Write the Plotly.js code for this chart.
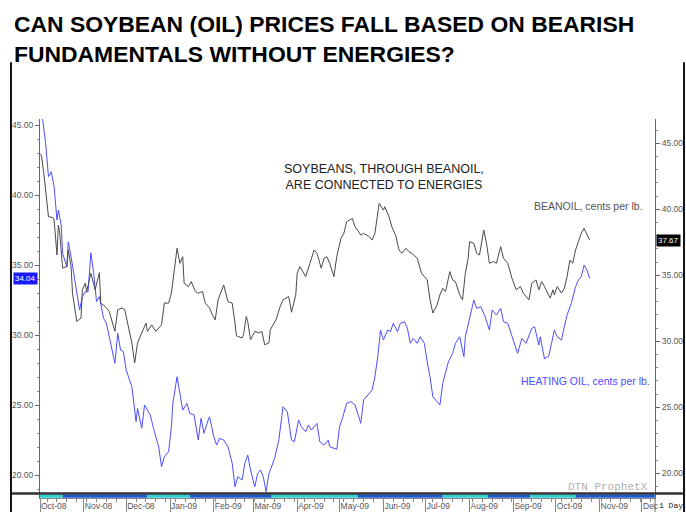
<!DOCTYPE html>
<html>
<head>
<meta charset="utf-8">
<script src="https://cdn.plot.ly/plotly-3.0.1.min.js"></script>
<style>
html,body{margin:0;padding:0;background:#fff;}
#chart{width:686px;height:512px;}
</style>
</head>
<body>
<div id="chart"></div>
<script>
// ---- DATA ----
const beanDates = ['2008-10-01','2008-10-02','2008-10-04','2008-10-07','2008-10-10','2008-10-11','2008-10-13','2008-10-14','2008-10-15','2008-10-17','2008-10-20','2008-10-21','2008-10-23','2008-10-24','2008-10-27','2008-10-30','2008-10-31','2008-11-02','2008-11-03','2008-11-06','2008-11-09','2008-11-12','2008-11-13','2008-11-16','2008-11-19','2008-11-23','2008-11-25','2008-11-28','2008-11-30','2008-12-02','2008-12-05','2008-12-07','2008-12-09','2008-12-13','2008-12-15','2008-12-16','2008-12-19','2008-12-22','2008-12-26','2008-12-28','2008-12-31','2009-01-02','2009-01-04','2009-01-06','2009-01-08','2009-01-10','2009-01-11','2009-01-14','2009-01-16','2009-01-19','2009-01-21','2009-01-24','2009-01-26','2009-01-29','2009-01-31','2009-02-02','2009-02-04','2009-02-08','2009-02-11','2009-02-14','2009-02-16','2009-02-17','2009-02-21','2009-02-22','2009-02-24','2009-02-25','2009-02-27','2009-03-02','2009-03-05','2009-03-07','2009-03-09','2009-03-12','2009-03-13','2009-03-15','2009-03-17','2009-03-20','2009-03-22','2009-03-26','2009-03-28','2009-03-31','2009-04-01','2009-04-03','2009-04-07','2009-04-10','2009-04-13','2009-04-15','2009-04-18','2009-04-20','2009-04-22','2009-04-24','2009-04-27','2009-04-29','2009-05-02','2009-05-04','2009-05-06','2009-05-10','2009-05-12','2009-05-16','2009-05-18','2009-05-22','2009-05-24','2009-05-26','2009-05-29','2009-06-01','2009-06-02','2009-06-05','2009-06-07','2009-06-10','2009-06-12','2009-06-14','2009-06-17','2009-06-19','2009-06-21','2009-06-25','2009-06-26','2009-06-28','2009-07-02','2009-07-04','2009-07-06','2009-07-09','2009-07-11','2009-07-13','2009-07-15','2009-07-18','2009-07-20','2009-07-22','2009-07-25','2009-07-27','2009-07-29','2009-07-31','2009-08-01','2009-08-04','2009-08-06','2009-08-08','2009-08-11','2009-08-13','2009-08-15','2009-08-18','2009-08-20','2009-08-23','2009-08-25','2009-08-28','2009-08-31','2009-09-03','2009-09-06','2009-09-08','2009-09-12','2009-09-14','2009-09-17','2009-09-19','2009-09-21','2009-09-23','2009-09-27','2009-09-29','2009-09-30','2009-10-02','2009-10-05','2009-10-07','2009-10-09','2009-10-11','2009-10-13','2009-10-15','2009-10-17','2009-10-19','2009-10-21','2009-10-23','2009-10-25'];
const beanoil = [44.22,44.09,42.45,39.43,39.39,39.18,36.54,38.81,38.18,35.54,35.66,36.92,35.66,33.65,31.50,31.76,33.90,34.40,33.77,35.16,33.90,35.20,32.89,32.64,32.26,30.75,32.39,32.52,32.39,31.38,29.87,28.36,29.87,30.88,31.38,30.75,31.25,30.75,31.25,32.90,32.89,33.65,35.16,37.05,35.91,36.41,34.40,34.15,34.52,33.77,33.65,33.77,32.89,32.52,32.01,31.63,33.14,34.27,33.01,32.89,31.38,30.42,30.25,30.50,31.88,31.50,30.12,30.75,30.63,30.75,29.74,29.87,30.88,31.25,31.63,32.64,33.14,33.39,32.20,33.52,35.16,35.66,34.90,35.91,36.92,36.67,35.54,36.29,36.41,35.91,34.90,36.41,37.80,38.18,39.06,39.31,38.68,38.05,38.18,37.92,37.67,38.18,40.45,39.94,40.19,39.43,38.68,37.92,36.92,36.67,37.05,36.79,36.67,36.29,35.90,35.16,34.65,33.14,32.14,32.76,33.52,34.02,33.77,35.28,34.65,34.52,33.52,33.14,35.16,36.29,37.55,37.42,36.67,36.54,38.43,37.42,35.91,36.04,35.91,37.17,36.29,35.91,34.78,33.90,34.15,33.65,33.14,34.40,34.65,33.90,34.52,34.15,33.27,33.90,33.52,34.15,33.65,34.02,34.90,36.16,35.91,36.92,37.55,38.18,38.56,38.05,37.67];

const hoDates = ['2008-10-01','2008-10-03','2008-10-05','2008-10-07','2008-10-09','2008-10-11','2008-10-13','2008-10-14','2008-10-16','2008-10-17','2008-10-20','2008-10-21','2008-10-23','2008-10-26','2008-10-29','2008-10-31','2008-11-02','2008-11-04','2008-11-06','2008-11-08','2008-11-10','2008-11-12','2008-11-15','2008-11-17','2008-11-20','2008-11-23','2008-11-25','2008-11-27','2008-11-29','2008-12-01','2008-12-05','2008-12-08','2008-12-09','2008-12-12','2008-12-14','2008-12-18','2008-12-21','2008-12-24','2008-12-26','2008-12-28','2008-12-31','2009-01-02','2009-01-03','2009-01-06','2009-01-08','2009-01-10','2009-01-13','2009-01-15','2009-01-18','2009-01-21','2009-01-23','2009-01-25','2009-01-28','2009-01-29','2009-02-01','2009-02-03','2009-02-05','2009-02-08','2009-02-11','2009-02-14','2009-02-16','2009-02-18','2009-02-21','2009-02-23','2009-02-25','2009-02-27','2009-03-02','2009-03-04','2009-03-06','2009-03-08','2009-03-10','2009-03-12','2009-03-13','2009-03-16','2009-03-19','2009-03-22','2009-03-25','2009-03-28','2009-03-30','2009-04-02','2009-04-04','2009-04-07','2009-04-09','2009-04-11','2009-04-15','2009-04-17','2009-04-20','2009-04-23','2009-04-24','2009-04-27','2009-04-29','2009-05-01','2009-05-03','2009-05-06','2009-05-09','2009-05-12','2009-05-14','2009-05-16','2009-05-18','2009-05-20','2009-05-24','2009-05-26','2009-05-28','2009-05-30','2009-06-01','2009-06-04','2009-06-06','2009-06-08','2009-06-11','2009-06-13','2009-06-16','2009-06-18','2009-06-20','2009-06-22','2009-06-25','2009-06-27','2009-06-30','2009-07-02','2009-07-04','2009-07-06','2009-07-11','2009-07-13','2009-07-17','2009-07-20','2009-07-22','2009-07-25','2009-07-28','2009-07-29','2009-08-01','2009-08-04','2009-08-06','2009-08-09','2009-08-12','2009-08-15','2009-08-17','2009-08-20','2009-08-23','2009-08-25','2009-08-28','2009-08-31','2009-09-04','2009-09-07','2009-09-10','2009-09-14','2009-09-16','2009-09-19','2009-09-20','2009-09-23','2009-09-26','2009-09-28','2009-09-30','2009-10-02','2009-10-05','2009-10-07','2009-10-09','2009-10-12','2009-10-15','2009-10-17','2009-10-19','2009-10-21','2009-10-23','2009-10-25'];
const heatingOil = [45.80,45.30,43.69,41.31,41.66,40.59,38.21,38.93,37.86,35.84,34.88,36.66,35.59,33.69,31.79,32.74,33.09,33.09,35.88,34.41,32.38,32.74,31.19,30.84,29.41,27.98,30.12,28.93,28.81,27.50,26.31,23.81,24.76,23.34,25.00,24.29,23.09,22.02,20.59,21.31,21.66,23.45,25.12,27.02,25.84,24.64,25.12,24.41,24.29,22.50,24.05,22.98,23.93,24.16,22.74,22.14,22.62,22.50,22.02,20.84,19.16,19.88,19.64,20.84,21.43,20.36,19.16,20.12,20.36,19.88,18.81,20.12,20.36,21.19,22.50,24.88,24.52,22.50,22.38,23.93,23.45,23.09,23.57,23.21,23.69,22.38,22.14,22.50,22.02,21.91,21.84,23.45,24.05,25.12,25.24,25.00,24.41,23.69,25.36,25.59,26.07,27.02,28.45,30.36,29.64,30.36,30.24,30.84,30.24,30.84,30.95,30.48,29.41,29.76,29.41,29.88,29.41,28.09,27.02,25.59,25.00,26.55,28.09,28.69,29.41,29.88,28.45,29.88,31.31,32.50,31.91,32.02,31.31,30.36,31.79,31.43,31.91,30.95,30.84,29.88,28.69,29.76,29.41,30.48,30.59,29.29,29.88,28.30,28.50,29.41,30.36,29.88,29.64,30.59,31.43,32.26,33.45,33.93,34.16,35.00,34.64,34.04];

const monthTicks = ['2008-10-01','2008-11-01','2008-12-01','2009-01-01','2009-02-01','2009-03-01','2009-04-01','2009-05-01','2009-06-01','2009-07-01','2009-08-01','2009-09-01','2009-10-01','2009-11-01','2009-12-01'];
const monthLabels = ['Oct-08','Nov-08','Dec-08','Jan-09','Feb-09','Mar-09','Apr-09','May-09','Jun-09','Jul-09','Aug-09','Sep-09','Oct-09','Nov-09','Dec'];
const leftTicks = [20, 25, 30, 35, 40, 45];
const rightTicks = [20, 25, 30, 35, 40, 45];

// contract-period band along the bottom
const bandDates = ['2008-10-01','2008-10-17','2008-12-16','2009-01-15','2009-03-14','2009-05-14','2009-07-13','2009-08-14','2009-09-13','2009-10-15','2009-12-10'];
const bandColors = ['#2ed1d1','#1a5ad0','#2ed1d1','#1a5ad0','#2ed1d1','#1a5ad0','#2ed1d1','#1a5ad0','#2ed1d1','#1a5ad0'];

// ---- CHART ----
const tickFont = {family: 'Liberation Sans, Arial, sans-serif', size: 8.5, color: '#555'};

const traces = [
  {x: hoDates, y: heatingOil, type: 'scatter', mode: 'lines', yaxis: 'y',
   line: {color: '#4d4dff', width: 1}, hoverinfo: 'skip'},
  {x: beanDates, y: beanoil, type: 'scatter', mode: 'lines', yaxis: 'y2',
   line: {color: '#4a4a4a', width: 1}, hoverinfo: 'skip'}
];

const shapes = [];
for (let i = 0; i < bandColors.length; i++) {
  shapes.push({type: 'rect', xref: 'x', yref: 'paper', x0: bandDates[i], x1: bandDates[i+1],
    y0: 0.0005, y1: 0.0092, fillcolor: bandColors[i], line: {width: 0}, layer: 'above'});
}
// dark rule above the band
shapes.push({type: 'line', xref: 'paper', yref: 'paper', x0: -0.0472, x1: 1.0472, y0: 0.0118, y1: 0.0118,
  line: {color: '#333', width: 2.5}, layer: 'above'});
// outer frame lines
shapes.push({type: 'line', xref: 'paper', yref: 'paper', x0: -0.0472, x1: -0.0472, y0: 1.15, y1: -0.04,
  line: {color: '#111', width: 2}});
shapes.push({type: 'line', xref: 'paper', yref: 'paper', x0: 1.0472, x1: 1.0472, y0: 1.15, y1: -0.04,
  line: {color: '#111', width: 2}});
// right axis continuing through the date row
shapes.push({type: 'line', xref: 'paper', yref: 'paper', x0: 1, x1: 1, y0: 0, y1: -0.04,
  line: {color: '#666', width: 1}});

const lastBean = beanoil[beanoil.length - 1];
const lastHO = heatingOil[heatingOil.length - 1];

const annotations = [
  {xref: 'paper', yref: 'paper', x: -0.0455, y: 1.29, xanchor: 'left', yanchor: 'top', align: 'left',
   showarrow: false,
   text: '<b>CAN SOYBEAN (OIL) PRICES FALL BASED ON BEARISH<br>FUNDAMENTALS WITHOUT ENERGIES?</b>',
   font: {family: 'Liberation Sans, Arial, sans-serif', size: 22.9, color: '#000'}},
  {xref: 'paper', yref: 'paper', x: 0.559, y: 0.848, xanchor: 'center', yanchor: 'middle', align: 'center',
   showarrow: false, text: 'SOYBEANS, THROUGH BEANOIL,<br>ARE CONNECTED TO ENERGIES',
   font: {family: 'Liberation Sans, Arial, sans-serif', size: 12.5, color: '#222'}},
  {xref: 'paper', yref: 'paper', x: 0.984, y: 0.770, xanchor: 'right', yanchor: 'middle', showarrow: false,
   text: 'BEANOIL, cents per lb.', font: {family: 'Liberation Sans, Arial, sans-serif', size: 10.5, color: '#555'}},
  {xref: 'paper', yref: 'paper', x: 0.995, y: 0.3095, xanchor: 'right', yanchor: 'middle', showarrow: false,
   text: 'HEATING OIL, cents per lb.', font: {family: 'Liberation Sans, Arial, sans-serif', size: 10.5, color: '#4d4dff'}},
  {xref: 'paper', yref: 'paper', x: 0.992, y: 0.03, xanchor: 'right', yanchor: 'middle', showarrow: false,
   text: 'DTN ProphetX', font: {family: 'Liberation Mono, Courier New, monospace', size: 11, color: '#b0b0b0'}},
  {xref: 'paper', yref: 'y2', x: 1.002, y: lastBean, xanchor: 'left', yanchor: 'middle', showarrow: false,
   text: lastBean.toFixed(2), bgcolor: '#000', borderpad: 1,
   font: {family: 'Liberation Sans, Arial, sans-serif', size: 8, color: '#fff'}},
  {xref: 'paper', yref: 'y', x: -0.003, y: lastHO, xanchor: 'right', yanchor: 'middle', showarrow: false,
   text: lastHO.toFixed(2), bgcolor: '#1a1aff', borderpad: 1,
   font: {family: 'Liberation Sans, Arial, sans-serif', size: 8, color: '#fff'}},
  {xref: 'paper', yref: 'paper', x: 1.003, y: -0.02, xanchor: 'left', yanchor: 'middle', showarrow: false,
   text: '1 Day', font: {family: 'Liberation Mono, Courier New, monospace', size: 8, color: '#222'}}
];

const layout = {
  width: 686, height: 512,
  margin: {l: 40, r: 31, t: 119, b: 14, pad: 0},
  paper_bgcolor: '#fff', plot_bgcolor: '#fff',
  showlegend: false,
  xaxis: {
    type: 'date', range: ['2008-10-01', '2009-12-10 05:00'],
    tickmode: 'array', tickvals: monthTicks, ticktext: monthLabels,
    ticklabelposition: 'outside right',
    ticks: 'outside', ticklen: 14, tickcolor: '#888', tickwidth: 1,
    tickfont: tickFont,
    minor: {ticks: 'outside', ticklen: 3, tickcolor: '#888', dtick: 7 * 86400000, tick0: '2008-10-06', showgrid: false},
    showline: true, linecolor: '#888', linewidth: 1,
    showgrid: false, zeroline: false, fixedrange: true
  },
  yaxis: {
    range: [18.36, 45.43], tickmode: 'array', tickvals: leftTicks,
    tickformat: '.2f', ticks: 'outside', ticklen: 4, tickcolor: '#666',
    minor: {ticks: 'outside', ticklen: 2, tickcolor: '#888', dtick: 1, tick0: 20, showgrid: false},
    tickfont: tickFont, showline: true, linecolor: '#666', linewidth: 1,
    showgrid: false, zeroline: false, fixedrange: true
  },
  yaxis2: {
    range: [18.13, 46.84], overlaying: 'y', side: 'right', tickmode: 'array', tickvals: rightTicks,
    tickformat: '.2f', ticks: 'outside', ticklen: 4, tickcolor: '#666',
    minor: {ticks: 'outside', ticklen: 2, tickcolor: '#888', dtick: 1, tick0: 20, showgrid: false},
    tickfont: tickFont, showline: true, linecolor: '#666', linewidth: 1,
    showgrid: false, zeroline: false, fixedrange: true
  },
  shapes: shapes,
  annotations: annotations
};

Plotly.newPlot('chart', traces, layout, {displayModeBar: false, staticPlot: true});
</script>
</body>
</html>
